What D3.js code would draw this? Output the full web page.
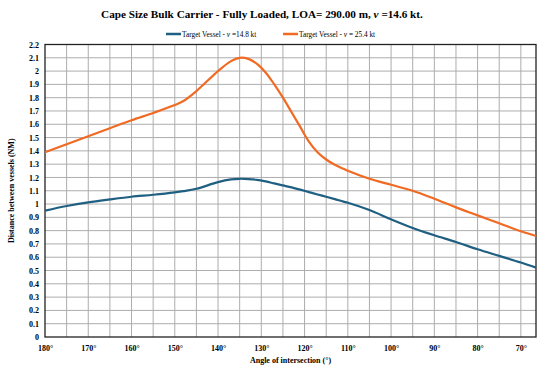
<!DOCTYPE html>
<html>
<head>
<meta charset="utf-8">
<script src="https://cdn.jsdelivr.net/npm/d3@7"></script>
<style>
  body { margin: 0; background: #fff; }
  text { font-family: "Liberation Serif", "Times New Roman", serif; }
</style>
</head>
<body>
<div class="main"></div>
<script>
// angles (deg) and distances (NM)
const angles = [180, 175, 170, 165, 160, 155, 150, 148, 145, 140, 137, 135, 133, 131, 129, 127, 125, 123, 121, 119, 117, 115, 113, 111, 110, 105, 100, 95, 90, 85, 80, 75, 70, 66.5];
const slowVals = [0.95, 0.985, 1.013, 1.035, 1.055, 1.07, 1.088, 1.097, 1.115, 1.165, 1.185, 1.19, 1.188, 1.182, 1.17, 1.155, 1.14, 1.125, 1.108, 1.09, 1.072, 1.055, 1.037, 1.018, 1.01, 0.955, 0.885, 0.82, 0.765, 0.715, 0.66, 0.61, 0.56, 0.522];
const fastVals = [1.39, 1.45, 1.51, 1.57, 1.63, 1.685, 1.745, 1.775, 1.85, 2.0, 2.075, 2.1, 2.092, 2.055, 1.99, 1.9, 1.8, 1.69, 1.58, 1.47, 1.39, 1.335, 1.295, 1.265, 1.25, 1.19, 1.145, 1.10, 1.04, 0.975, 0.915, 0.855, 0.795, 0.76];
const xTicks = [180, 170, 160, 150, 140, 130, 120, 110, 100, 90, 80, 70];
const series = [
  { pre: "Target Vessel - ", post: " =14.8 kt", color: "#1f5f82", values: slowVals },
  { pre: "Target Vessel - ", post: " = 25.4 kt", color: "#f06a23", values: fastVals }
];

const fullwidth = 550, fullheight = 371;
const margin = { top: 44.5, right: 14, bottom: 34, left: 45 };
const width = fullwidth - margin.left - margin.right;
const height = fullheight - margin.top - margin.bottom;

const svg = d3.select(".main").append("svg")
  .attr("width", fullwidth).attr("height", fullheight);

const x = d3.scaleLinear().domain([180, 66.5]).range([0, width]);
const y = d3.scaleLinear().domain([0, 2.2]).range([height, 0]);

// title
const title = svg.append("text")
  .attr("x", 262).attr("y", 18)
  .attr("text-anchor", "middle")
  .attr("font-size", 11.2).attr("font-weight", "bold");
title.append("tspan").text("Cape Size Bulk Carrier - Fully Loaded, LOA= 290.00 m, ");
title.append("tspan").text("v").attr("font-style", "italic");
title.append("tspan").text(" =14.6 kt.");

// legend
const legendX = [166, 283];
series.forEach((s, i) => {
  const lg = svg.append("g").attr("transform", "translate(" + legendX[i] + ",34)");
  lg.append("line").attr("x1", 0).attr("x2", 15).attr("y1", 0).attr("y2", 0)
    .attr("stroke", s.color).attr("stroke-width", 2.5);
  const t = lg.append("text").attr("x", 16).attr("y", 2.6).attr("font-size", 7.3);
  t.append("tspan").text(s.pre);
  t.append("tspan").text("v").attr("font-style", "italic");
  t.append("tspan").text(s.post);
});

const g = svg.append("g")
  .attr("transform", "translate(" + margin.left + "," + margin.top + ")");

// grid
g.append("g").selectAll("line")
  .data(d3.range(175, 66, -5))
  .join("line")
  .attr("x1", (d) => x(d)).attr("x2", (d) => x(d))
  .attr("y1", 0).attr("y2", height)
  .attr("stroke", "#adadad").attr("stroke-width", 1);

g.append("g").selectAll("line")
  .data(d3.range(1, 22))
  .join("line")
  .attr("x1", 0).attr("x2", width)
  .attr("y1", (d) => y(d / 10)).attr("y2", (d) => y(d / 10))
  .attr("stroke", "#adadad").attr("stroke-width", 1);

// axes
const yAxis = g.append("g")
  .call(d3.axisLeft(y).tickValues(d3.range(0, 23).map((d) => d / 10))
    .tickFormat((d) => d3.format("~g")(+d.toFixed(1))).tickSize(0).tickPadding(6));
yAxis.select(".domain").remove();
yAxis.selectAll("text").attr("font-size", 8).attr("font-weight", "bold")
  .attr("font-family", "Liberation Serif, serif");

const xAxis = g.append("g").attr("transform", "translate(0," + height + ")")
  .call(d3.axisBottom(x).tickValues(xTicks).tickFormat((d) => d + "°").tickSize(0).tickPadding(8));
xAxis.select(".domain").remove();
xAxis.selectAll("text").attr("font-size", 8).attr("font-weight", "bold")
  .attr("font-family", "Liberation Serif, serif");

// border
g.append("rect").attr("width", width).attr("height", height)
  .attr("fill", "none").attr("stroke", "#222").attr("stroke-width", 1.3);

// lines
const line = d3.line()
  .x((d) => x(d[0]))
  .y((d) => y(d[1]))
  .curve(d3.curveCatmullRom.alpha(0.5));

series.forEach((s) => {
  g.append("path")
    .datum(angles.map((a, i) => [a, s.values[i]]))
    .attr("fill", "none")
    .attr("stroke", s.color)
    .attr("stroke-width", 2.2)
    .attr("d", line);
});

// axis titles
svg.append("text")
  .attr("transform", "translate(14," + (margin.top + height / 2) + ") rotate(-90)")
  .attr("text-anchor", "middle").attr("font-size", 8).attr("font-weight", "bold")
  .text("Distance between vessels (NM)");

svg.append("text")
  .attr("x", margin.left + width / 2).attr("y", 363)
  .attr("text-anchor", "middle").attr("font-size", 8).attr("font-weight", "bold")
  .text("Angle of intersection (°)");
</script>
</body>
</html>
